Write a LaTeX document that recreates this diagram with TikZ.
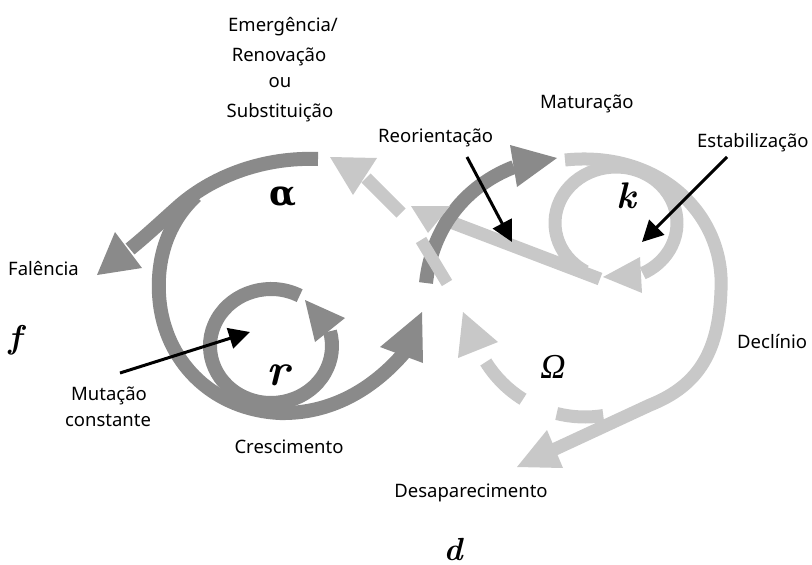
\documentclass[tikz,border=0pt]{standalone}
\usepackage{fontspec}
\setsansfont{Noto Sans}
\newfontfamily\greekfont{DejaVu Serif}
\newfontfamily\omegafont{Liberation Serif}
\usetikzlibrary{arrows.meta}

\definecolor{bandDark}{RGB}{138,138,138}
\definecolor{bandLight}{RGB}{200,200,200}

\tikzset{
  darkband/.style={draw=bandDark, line width=14pt},
  lightband/.style={draw=bandLight, line width=13pt},
  darktip/.style={fill=bandDark},
  lighttip/.style={fill=bandLight},
  pointer/.style={draw=black, line width=3pt, -{Triangle[length=21pt,width=21pt]}},
  lbl/.style={font=\sffamily\fontsize{18.5}{22}\selectfont, inner sep=0pt, anchor=base},
  lblw/.style={lbl, anchor=base west},
  phase/.style={inner sep=0pt, anchor=base},
}

\begin{document}
\begin{tikzpicture}[x=1pt, y=-1pt]
\useasboundingbox (0,0) rectangle (812,565);

% ---- r / alpha side (dark bands) ----
% upper alpha arc, ending in the Falencia arrow
\draw[darkband] (318,159) .. controls (265,157) and (215,175) .. (180,205)
                .. controls (162,221) and (146,236) .. (130,249);
\fill[darktip] (97,275) -- (115,232) -- (142,268) -- cycle;

% big outer loop down and round into the growth arrow
\draw[darkband] (196,196) .. controls (165,225) and (155,265) .. (160,305)
                .. controls (168,365) and (215,410) .. (280,413)
                .. controls (330,414) and (372,390) .. (404,353);
\fill[darktip] (380,347) -- (422,312) -- (423,363) -- cycle;

% small r loop
\draw[darkband] ([shift={(271,346)}]-62:61 and 57)
                arc[start angle=-62, end angle=-375, x radius=61, y radius=57];
\fill[darktip] (305,300) -- (345,318) -- (315,342) -- cycle;

% ---- K / Omega side (light bands) ----
% outer decline arc to the disappearance arrow
\draw[lightband] (565,160) .. controls (660,150) and (725,215) .. (721,290)
                 .. controls (719,350) and (700,385) .. (650,405) -- (553,450);
\fill[lighttip] (517,467) -- (547,430) -- (563,468) -- cycle;

% inner K loop
\draw[lightband] ([shift={(616,223)}]120:61 and 56)
                 arc[start angle=120, end angle=424, x radius=61, y radius=56];
\fill[lighttip] (603,277) -- (640,257) -- (642,293) -- cycle;

% reorientation band back to the centre (passes under the rising arc)
\draw[lightband] (600,279) -- (440,218);

% rising arc towards maturation
\draw[darkband] (426,283) .. controls (432,228) and (465,186) .. (514,167);
\fill[darktip] (510,145) -- (557,158) -- (517,187) -- cycle;

% light pieces lying over the rising arc
\fill[lighttip] (411,206) -- (450,206) -- (428,233) -- cycle;
\draw[lightband, line width=12pt] (421,240) -- (447,283);

% light arrow back to alpha
\draw[lightband] (401,213) -- (366,178);
\fill[lighttip] (330,157) -- (377,158) -- (353,195) -- cycle;

% dashed Omega return
\draw[lightband] ([shift={(585,300)}]81:117) arc[start angle=81, end angle=104, radius=117];
\draw[lightband] ([shift={(585,300)}]122:117) arc[start angle=122, end angle=148, radius=117];
\fill[lighttip] (463,312) -- (498,342) -- (458,358) -- cycle;

% ---- labels ----
\node[lbl] (emerg) at (283,31) {Emergência/};
\node[lbl] (renov) at (279,61) {Renovação};
\node[lbl] (ou) at (280,87) {ou};
\node[lbl] (subst) at (280,117) {Substituição};
\node[lblw] (falen) at (8,275) {Falência};
\node[lblw] (matur) at (540,108) {Maturação};
\node[lblw] (reori) at (378,142) {Reorientação};
\node[lblw] (estab) at (697,147) {Estabilização};
\node[lblw] (decli) at (737,348) {Declínio};
\node[lbl] (mutac) at (109,400) {Mutação};
\node[lbl] (const) at (108,426) {constante};
\node[lbl] (cresc) at (289,453) {Crescimento};
\node[lbl] (desap) at (471,497) {Desaparecimento};

% phase letters
\node[phase] (alpha) at (283,205) {\greekfont\bfseries\fontsize{35}{35}\selectfont α};
\node[phase] (kay) at (626,208) {\rmfamily\bfseries\itshape\fontsize{37}{37}\selectfont k};
\node[phase] (arr) at (278,385) {\rmfamily\bfseries\itshape\fontsize{46}{46}\selectfont r};
\node[phase] (omega) at (553,378) {\omegafont\itshape\fontsize{35}{35}\selectfont Ω};
\node[phase] (eff) at (15,348) {\rmfamily\bfseries\itshape\fontsize{33}{33}\selectfont f};
\node[phase] (dee) at (453,560) {\rmfamily\bfseries\itshape\fontsize{32}{32}\selectfont d};

% black pointers
\coordinate (reoriFrom) at (467,157);
\coordinate (reoriTo) at (512,242);
\coordinate (estabFrom) at (727,157);
\coordinate (estabTo) at (642,242);
\coordinate (mutacFrom) at (120,373);
\coordinate (mutacTo) at (250,332);
\draw[pointer] (reoriFrom) -- (reoriTo);
\draw[pointer] (estabFrom) -- (estabTo);
\draw[pointer] (mutacFrom) -- (mutacTo);
\end{tikzpicture}
\end{document}
